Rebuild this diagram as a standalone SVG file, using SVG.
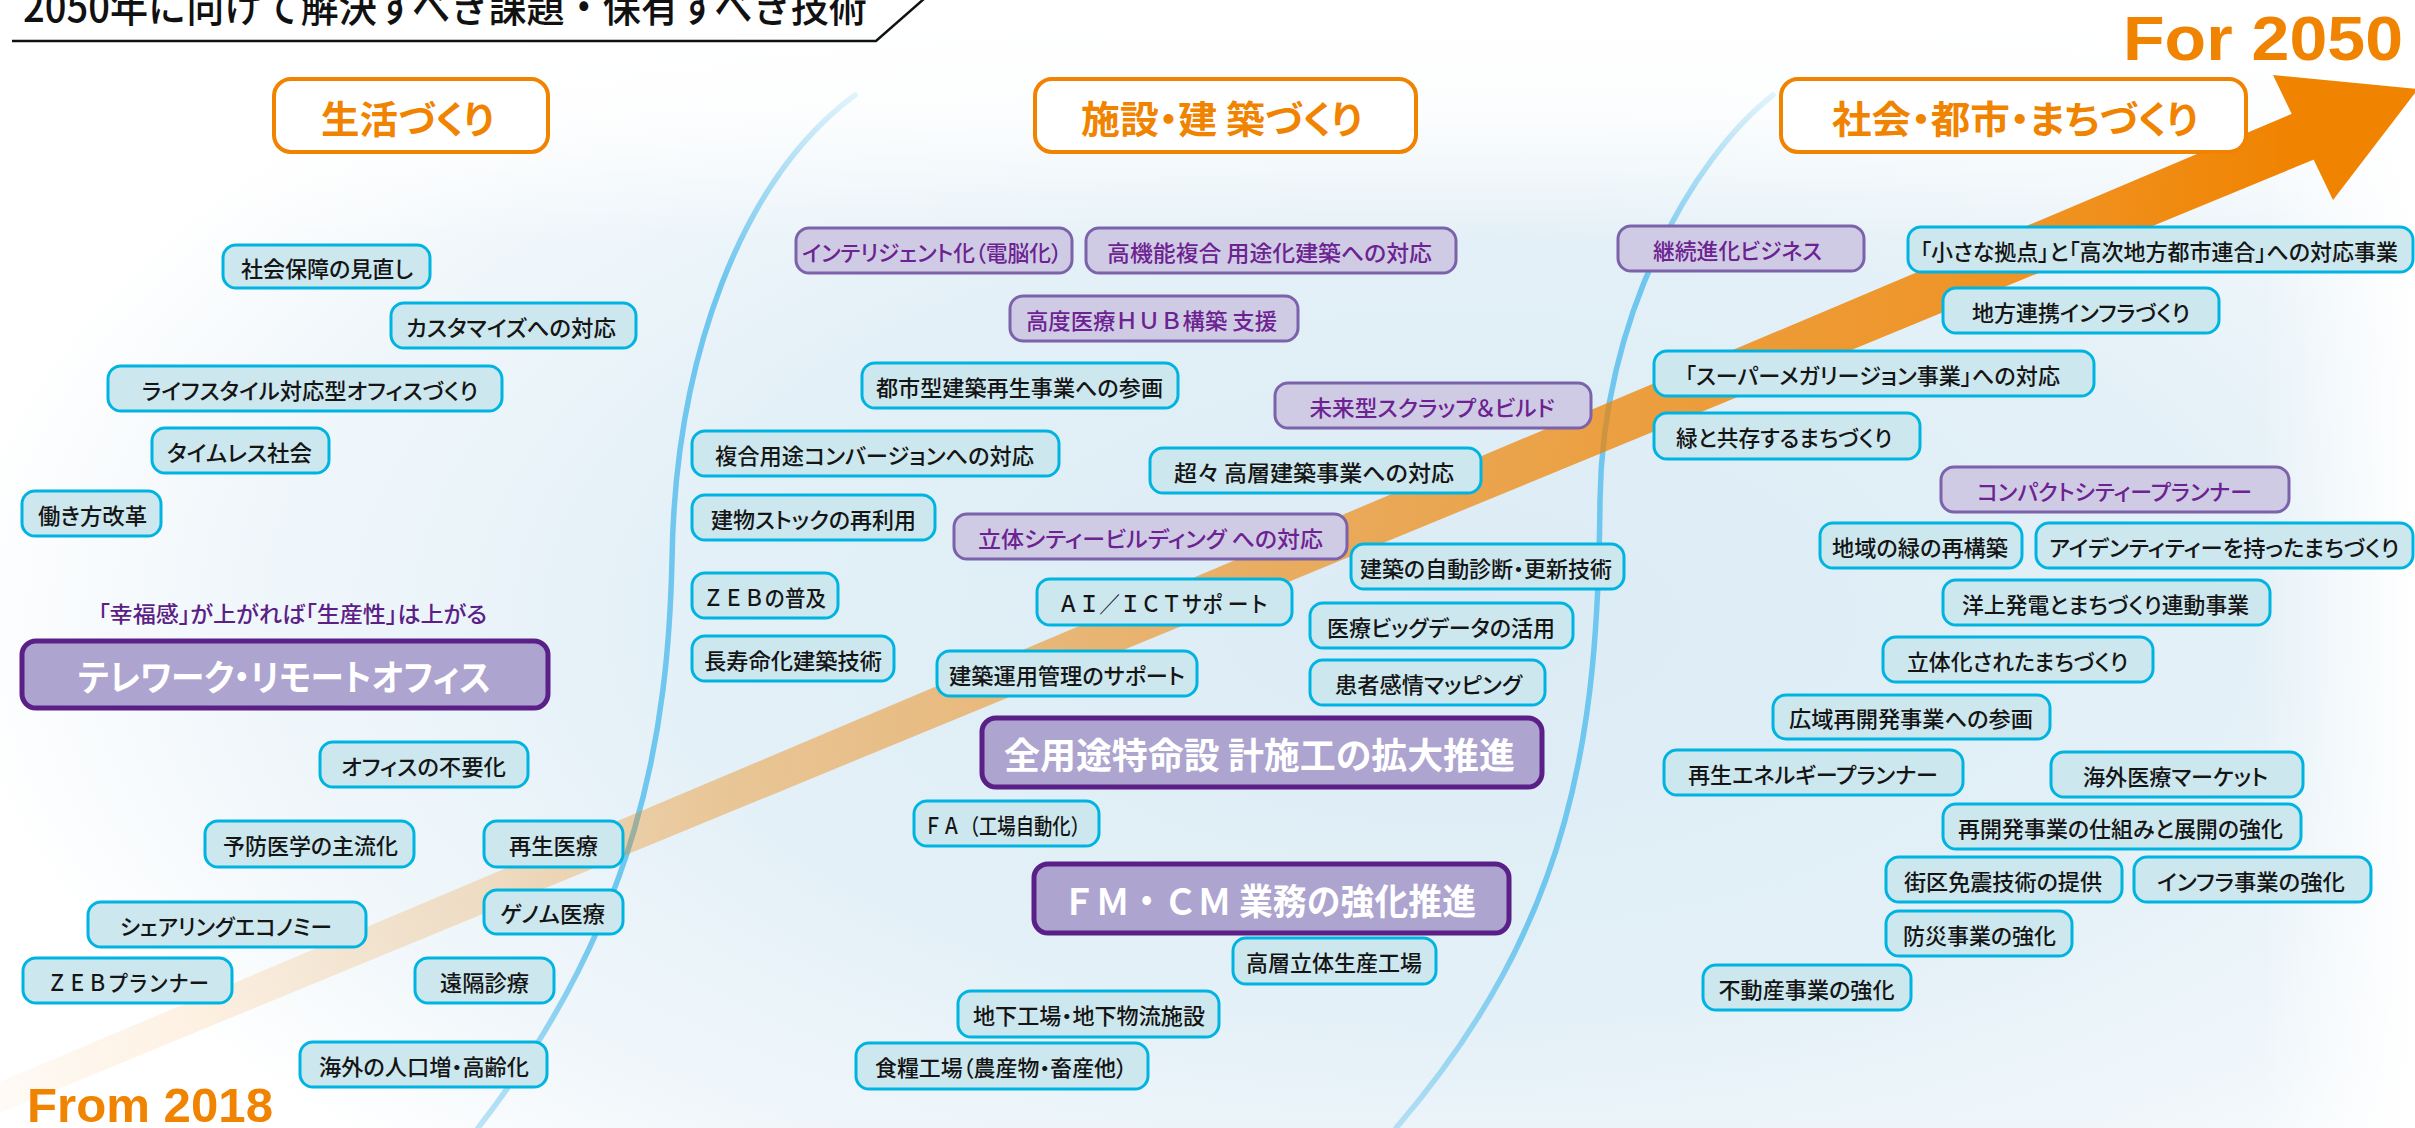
<svg xmlns="http://www.w3.org/2000/svg" width="2415" height="1128" viewBox="0 0 2415 1128">
<defs>
<radialGradient id="bg" gradientUnits="userSpaceOnUse" cx="0" cy="0" r="1" gradientTransform="translate(1450 620) scale(1500 760)">
<stop offset="0" stop-color="#dbebf5"/>
<stop offset="0.5" stop-color="#e3f0f7"/>
<stop offset="0.82" stop-color="#f1f7fb"/>
<stop offset="1" stop-color="#ffffff"/>
</radialGradient>
<linearGradient id="topfade" x1="0" y1="0" x2="0" y2="1">
<stop offset="0" stop-color="#fff" stop-opacity="1"/>
<stop offset="0.45" stop-color="#fff" stop-opacity="0.85"/>
<stop offset="1" stop-color="#fff" stop-opacity="0"/>
</linearGradient>
<linearGradient id="rightfade" x1="0" y1="0" x2="1" y2="0">
<stop offset="0" stop-color="#fff" stop-opacity="0"/>
<stop offset="1" stop-color="#fff" stop-opacity="1"/>
</linearGradient>
<linearGradient id="band" gradientUnits="userSpaceOnUse" x1="0" y1="0" x2="2415" y2="0">
<stop offset="0" stop-color="#f08300" stop-opacity="0.04"/>
<stop offset="0.2" stop-color="#f08300" stop-opacity="0.22"/>
<stop offset="0.29" stop-color="#f08300" stop-opacity="0.38"/>
<stop offset="0.66" stop-color="#f08300" stop-opacity="0.73"/>
<stop offset="0.845" stop-color="#f08300" stop-opacity="0.86"/>
<stop offset="0.95" stop-color="#f08300" stop-opacity="1"/>
</linearGradient>
<linearGradient id="cv" x1="0" y1="0" x2="0" y2="1">
<stop offset="0" stop-color="#6fc6ee" stop-opacity="0.2"/>
<stop offset="0.18" stop-color="#6fc6ee" stop-opacity="1"/>
<stop offset="0.8" stop-color="#6fc6ee" stop-opacity="1"/>
<stop offset="1" stop-color="#6fc6ee" stop-opacity="0.45"/>
</linearGradient>
<style>
text{font-family:"Noto Sans CJK JP","Noto Sans CJK SC",sans-serif;text-anchor:middle;dominant-baseline:central;font-feature-settings:"palt" 1;font-size:22px;font-weight:500}
.np text,text.np{font-feature-settings:normal}
.c rect{fill:#cde7ee;stroke:#00b4e2;stroke-width:3}
.c text{fill:#151515}
.p rect{fill:#d0cbe5;stroke:#7b62aa;stroke-width:3}
.p text{fill:#6c2391}
.b rect{fill:#ada4cf;stroke:#5b1f88;stroke-width:5}
.b text{fill:#ffffff;font-weight:700;font-size:36px}
.h rect{fill:#ffffff;stroke:#f08300;stroke-width:4}
.h text{fill:#f08300;font-weight:700;font-size:38px}
.lat{font-family:"Liberation Sans",Arial,sans-serif;font-weight:700;fill:#f08300;text-anchor:start;dominant-baseline:alphabetic;font-feature-settings:normal}
.curve{fill:none;stroke:url(#cv);stroke-width:5.5;stroke-linecap:round}
</style>
</defs>

<g id="background">
<rect x="0" y="0" width="2415" height="1128" fill="#ffffff"/>
<rect x="0" y="0" width="2415" height="1128" fill="url(#bg)"/>
<rect x="0" y="0" width="2415" height="240" fill="url(#topfade)"/>
<rect x="2260" y="0" width="155" height="1128" fill="url(#rightfade)"/>
<path class="curve" d="M855,95 C740,180 675,360 672,560 C668,730 640,920 478,1128"/>
<path class="curve" d="M1773,95 C1690,160 1602,320 1600,500 C1598,730 1575,920 1396,1128"/>
</g>

<g id="title">
<text x="445" y="3" textLength="844" lengthAdjust="spacingAndGlyphs" style="font-size:42px;fill:#111;font-feature-settings:normal">2050年に向けて解決すべき課題・保有すべき技術</text>
<polyline points="12,41 876,41 925,-2" fill="none" stroke="#111" stroke-width="2.5"/>
</g>

<g id="connectors">
<polygon points="-10,1086 2320,102 2320,157 -10,1117" fill="url(#band)"/>
<polygon points="2273,75 2418,89 2333,200" fill="#f08300"/>
</g>

<g id="labels">
<text class="lat" x="2123" y="60" textLength="280" lengthAdjust="spacingAndGlyphs" style="font-size:63px">For 2050</text>
<text class="lat" x="27" y="1122" textLength="246" lengthAdjust="spacingAndGlyphs" style="font-size:48px">From 2018</text>
<text id="happiness" x="292.5" y="612" textLength="389" lengthAdjust="spacingAndGlyphs" style="fill:#5b2085">「幸福感」が上がれば「生産性」は上がる</text>
</g>

<g id="headers">
<g id="h-life" class="h"><rect x="274" y="79" width="274" height="73" rx="17"/><text x="407.5" y="116" textLength="173" lengthAdjust="spacingAndGlyphs">生活づくり</text></g>
<g id="h-build" class="h"><rect x="1035" y="79" width="381" height="73" rx="17"/><text x="1221.5" y="116" textLength="281" lengthAdjust="spacingAndGlyphs">施設・建 築づくり</text></g>
<g id="h-city" class="h"><rect x="1781" y="79" width="465" height="73" rx="17"/><text x="2015" y="116" textLength="366" lengthAdjust="spacingAndGlyphs">社会・都市・まちづくり</text></g>
</g>

<g id="nodes-life">
<g id="n1" class="c"><rect x="223" y="245" width="207" height="43" rx="13"/><text x="327" y="266.5" textLength="172" lengthAdjust="spacingAndGlyphs">社会保障の見直し</text></g>
<g id="n2" class="c"><rect x="391" y="303" width="245" height="45" rx="13"/><text x="511" y="325.5" textLength="210" lengthAdjust="spacingAndGlyphs">カスタマイズへの対応</text></g>
<g id="n3" class="c"><rect x="108" y="366" width="394" height="45" rx="13"/><text x="310" y="388.5" textLength="336" lengthAdjust="spacingAndGlyphs">ライフスタイル対応型オフィスづくり</text></g>
<g id="n4" class="c"><rect x="152" y="428" width="177" height="45" rx="13"/><text x="239.5" y="450.5" textLength="145" lengthAdjust="spacingAndGlyphs">タイムレス社会</text></g>
<g id="n5" class="c"><rect x="22" y="491" width="139" height="45" rx="13"/><text x="92.5" y="513.5" textLength="109" lengthAdjust="spacingAndGlyphs">働き方改革</text></g>
<g id="n7" class="b"><rect x="22" y="641" width="526" height="67" rx="14"/><text x="284.5" y="674.5" textLength="413" lengthAdjust="spacingAndGlyphs">テレワーク・リモートオフィス</text></g>
<g id="n8" class="c"><rect x="320" y="742" width="208" height="45" rx="13"/><text x="423.5" y="764.5" textLength="165" lengthAdjust="spacingAndGlyphs">オフィスの不要化</text></g>
<g id="n9" class="c"><rect x="205" y="821" width="209" height="46" rx="13"/><text x="310.5" y="844" textLength="175" lengthAdjust="spacingAndGlyphs">予防医学の主流化</text></g>
<g id="n10" class="c"><rect x="484" y="821" width="139" height="46" rx="13"/><text x="553.5" y="844" textLength="89" lengthAdjust="spacingAndGlyphs">再生医療</text></g>
<g id="n11" class="c"><rect x="88" y="902" width="278" height="45" rx="13"/><text x="226" y="924.5" textLength="212" lengthAdjust="spacingAndGlyphs">シェアリングエコノミー</text></g>
<g id="n12" class="c"><rect x="484" y="890" width="139" height="44" rx="13"/><text x="552.5" y="912" textLength="105" lengthAdjust="spacingAndGlyphs">ゲノム医療</text></g>
<g id="n13" class="c np"><rect x="23" y="958" width="209" height="45" rx="13"/><text x="128" y="980.5" textLength="162" lengthAdjust="spacingAndGlyphs">ＺＥＢプランナー</text></g>
<g id="n14" class="c"><rect x="415" y="958" width="139" height="45" rx="13"/><text x="484.5" y="980.5" textLength="89" lengthAdjust="spacingAndGlyphs">遠隔診療</text></g>
<g id="n15" class="c"><rect x="300" y="1042" width="247" height="45" rx="13"/><text x="424" y="1064.5" textLength="210" lengthAdjust="spacingAndGlyphs">海外の人口増・高齢化</text></g>
</g>

<g id="nodes-building">
<g id="n17" class="p"><rect x="796" y="228" width="276" height="45" rx="13"/><text x="932" y="250.5" textLength="260" lengthAdjust="spacingAndGlyphs">インテリジェント化（電脳化）</text></g>
<g id="n18" class="p"><rect x="1086" y="228" width="370" height="45" rx="13"/><text x="1269.5" y="250.5" textLength="325" lengthAdjust="spacingAndGlyphs">高機能複合 用途化建築への対応</text></g>
<g id="n19" class="p np"><rect x="1010" y="296" width="288" height="45" rx="13"/><text x="1151.5" y="318.5" textLength="251" lengthAdjust="spacingAndGlyphs">高度医療ＨＵＢ構築 支援</text></g>
<g id="n20" class="c"><rect x="862" y="363" width="316" height="45" rx="13"/><text x="1019.5" y="385.5" textLength="287" lengthAdjust="spacingAndGlyphs">都市型建築再生事業への参画</text></g>
<g id="n21" class="p"><rect x="1275" y="383" width="316" height="45" rx="13"/><text x="1432" y="405.5" textLength="245" lengthAdjust="spacingAndGlyphs">未来型スクラップ＆ビルド</text></g>
<g id="n22" class="c"><rect x="692" y="431" width="367" height="45" rx="13"/><text x="874.5" y="453.5" textLength="319" lengthAdjust="spacingAndGlyphs">複合用途コンバージョンへの対応</text></g>
<g id="n23" class="c"><rect x="1150" y="448" width="331" height="45" rx="13"/><text x="1314" y="470.5" textLength="280" lengthAdjust="spacingAndGlyphs">超々 高層建築事業への対応</text></g>
<g id="n24" class="c"><rect x="692" y="495" width="243" height="45" rx="13"/><text x="813.5" y="517.5" textLength="205" lengthAdjust="spacingAndGlyphs">建物ストックの再利用</text></g>
<g id="n25" class="p"><rect x="954" y="514" width="393" height="45" rx="13"/><text x="1150.5" y="536.5" textLength="345" lengthAdjust="spacingAndGlyphs">立体シティービルディング への対応</text></g>
<g id="n26" class="c"><rect x="1351" y="544" width="273" height="45" rx="13"/><text x="1486" y="566.5" textLength="252" lengthAdjust="spacingAndGlyphs">建築の自動診断・更新技術</text></g>
<g id="n27" class="c np"><rect x="692" y="573" width="146" height="45" rx="13"/><text x="764.5" y="595.5" textLength="123" lengthAdjust="spacingAndGlyphs">ＺＥＢの普及</text></g>
<g id="n28" class="c np"><rect x="1037" y="579" width="255" height="46" rx="13"/><text x="1163.5" y="602" textLength="211" lengthAdjust="spacingAndGlyphs">ＡＩ／ＩＣＴサポ ート</text></g>
<g id="n29" class="c"><rect x="1310" y="603" width="263" height="45" rx="13"/><text x="1441" y="625.5" textLength="228" lengthAdjust="spacingAndGlyphs">医療ビッグデータの活用</text></g>
<g id="n30" class="c"><rect x="692" y="636" width="202" height="45" rx="13"/><text x="793" y="658.5" textLength="178" lengthAdjust="spacingAndGlyphs">長寿命化建築技術</text></g>
<g id="n31" class="c"><rect x="937" y="651" width="260" height="45" rx="13"/><text x="1067" y="673.5" textLength="236" lengthAdjust="spacingAndGlyphs">建築運用管理のサポート</text></g>
<g id="n32" class="c"><rect x="1310" y="660" width="235" height="45" rx="13"/><text x="1428.5" y="682.5" textLength="187" lengthAdjust="spacingAndGlyphs">患者感情マッピング</text></g>
<g id="n33" class="b"><rect x="982" y="718" width="560" height="69" rx="14"/><text x="1259.5" y="752.5" textLength="511" lengthAdjust="spacingAndGlyphs">全用途特命設 計施工の拡大推進</text></g>
<g id="n34" class="c np"><rect x="914" y="801" width="185" height="45" rx="13"/><text x="1006.5" y="823.5" textLength="165" lengthAdjust="spacingAndGlyphs">ＦＡ（工場自動化）</text></g>
<g id="n35" class="b np"><rect x="1034" y="864" width="475" height="69" rx="14"/><text x="1269" y="898.5" textLength="414" lengthAdjust="spacingAndGlyphs">ＦＭ・ＣＭ 業務の強化推進</text></g>
<g id="n36" class="c"><rect x="1233" y="938" width="203" height="46" rx="13"/><text x="1334" y="961" textLength="176" lengthAdjust="spacingAndGlyphs">高層立体生産工場</text></g>
<g id="n37" class="c"><rect x="958" y="991" width="261" height="46" rx="13"/><text x="1089" y="1014" textLength="232" lengthAdjust="spacingAndGlyphs">地下工場・地下物流施設</text></g>
<g id="n38" class="c"><rect x="856" y="1043" width="292" height="46" rx="13"/><text x="1001" y="1066" textLength="252" lengthAdjust="spacingAndGlyphs">食糧工場（農産物・畜産他）</text></g>
</g>

<g id="nodes-city">
<g id="n39" class="p"><rect x="1618" y="226" width="246" height="45" rx="13"/><text x="1737.5" y="248.5" textLength="169" lengthAdjust="spacingAndGlyphs">継続進化ビジネス</text></g>
<g id="n40" class="c"><rect x="1908" y="227" width="505" height="45" rx="13"/><text x="2159" y="249.5" textLength="478" lengthAdjust="spacingAndGlyphs">「小さな拠点」と「高次地方都市連合」への対応事業</text></g>
<g id="n41" class="c"><rect x="1943" y="288" width="276" height="45" rx="13"/><text x="2081" y="310.5" textLength="218" lengthAdjust="spacingAndGlyphs">地方連携インフラづくり</text></g>
<g id="n42" class="c"><rect x="1654" y="351" width="440" height="45" rx="13"/><text x="1872.5" y="373.5" textLength="375" lengthAdjust="spacingAndGlyphs">「スーパーメガリージョン事業」への対応</text></g>
<g id="n43" class="c"><rect x="1654" y="413" width="266" height="46" rx="13"/><text x="1784" y="436" textLength="216" lengthAdjust="spacingAndGlyphs">緑と共存するまちづくり</text></g>
<g id="n44" class="p"><rect x="1941" y="467" width="348" height="45" rx="13"/><text x="2114.5" y="489.5" textLength="275" lengthAdjust="spacingAndGlyphs">コンパクトシティープランナー</text></g>
<g id="n45" class="c"><rect x="1820" y="523" width="202" height="45" rx="13"/><text x="1920" y="545.5" textLength="176" lengthAdjust="spacingAndGlyphs">地域の緑の再構築</text></g>
<g id="n46" class="c"><rect x="2036" y="523" width="377" height="45" rx="13"/><text x="2224" y="545.5" textLength="350" lengthAdjust="spacingAndGlyphs">アイデンティティーを持ったまちづくり</text></g>
<g id="n47" class="c"><rect x="1943" y="580" width="327" height="45" rx="13"/><text x="2105.5" y="602.5" textLength="287" lengthAdjust="spacingAndGlyphs">洋上発電とまちづくり連動事業</text></g>
<g id="n48" class="c"><rect x="1883" y="637" width="270" height="45" rx="13"/><text x="2017.5" y="659.5" textLength="221" lengthAdjust="spacingAndGlyphs">立体化されたまちづくり</text></g>
<g id="n49" class="c"><rect x="1773" y="695" width="277" height="44" rx="13"/><text x="1911" y="717" textLength="244" lengthAdjust="spacingAndGlyphs">広域再開発事業への参画</text></g>
<g id="n50" class="c"><rect x="1664" y="750" width="299" height="45" rx="13"/><text x="1813" y="772.5" textLength="250" lengthAdjust="spacingAndGlyphs">再生エネルギープランナー</text></g>
<g id="n51" class="c"><rect x="2051" y="752" width="252" height="45" rx="13"/><text x="2175.5" y="774.5" textLength="185" lengthAdjust="spacingAndGlyphs">海外医療マーケット</text></g>
<g id="n52" class="c"><rect x="1943" y="804" width="358" height="45" rx="13"/><text x="2120.5" y="826.5" textLength="325" lengthAdjust="spacingAndGlyphs">再開発事業の仕組みと展開の強化</text></g>
<g id="n53" class="c"><rect x="1886" y="857" width="236" height="45" rx="13"/><text x="2003" y="879.5" textLength="198" lengthAdjust="spacingAndGlyphs">街区免震技術の提供</text></g>
<g id="n54" class="c"><rect x="2134" y="857" width="237" height="45" rx="13"/><text x="2251" y="879.5" textLength="188" lengthAdjust="spacingAndGlyphs">インフラ事業の強化</text></g>
<g id="n55" class="c"><rect x="1886" y="911" width="186" height="45" rx="13"/><text x="1979.5" y="933.5" textLength="153" lengthAdjust="spacingAndGlyphs">防災事業の強化</text></g>
<g id="n56" class="c"><rect x="1703" y="965" width="208" height="45" rx="13"/><text x="1806.5" y="987.5" textLength="176" lengthAdjust="spacingAndGlyphs">不動産事業の強化</text></g>
</g>
</svg>
